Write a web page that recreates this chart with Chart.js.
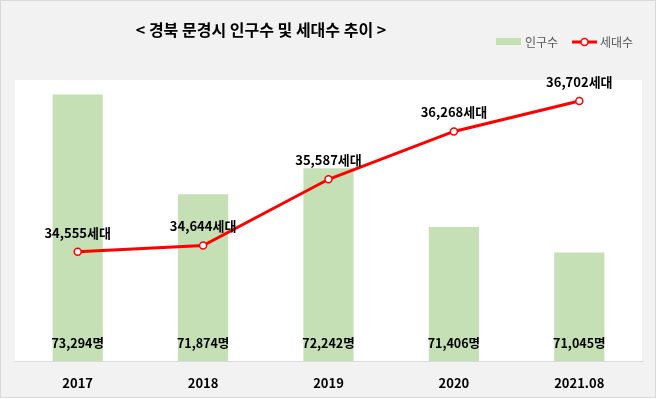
<!DOCTYPE html>
<html><head><meta charset="utf-8">
<script src="https://cdn.jsdelivr.net/npm/chart.js@4/dist/chart.umd.min.js"></script>
<style>html,body{margin:0;padding:0;background:#fff}</style>
</head><body>
<canvas id="c" width="657" height="399"></canvas>
<script>
const categories = ['2017', '2018', '2019', '2020', '2021.08'];
const population = [73294, 71874, 72242, 71406, 71045];
const households = [34555, 34644, 35587, 36268, 36702];
const popAxis = { min: 69500, max: 73500 };
const hhAxis = { min: 33000, max: 37000 };
const titleText = '< 경북 문경시 인구수 및 세대수 추이 >';
const popUnit = '명';
const hhUnit = '세대';

const FONT = "'Noto Sans CJK KR', 'Noto Sans', sans-serif";
const fmt = v => v.toLocaleString('en-US');

const bgPlugin = {
  id: 'bg',
  beforeDraw(chart) {
    const { ctx, chartArea: a } = chart;
    ctx.save();
    ctx.fillStyle = '#ffffff';
    ctx.fillRect(0, 0, chart.width, chart.height);
    ctx.fillStyle = '#f2f2f2';
    ctx.fillRect(0, 0, 656, 398);
    ctx.strokeStyle = '#d9d9d9';
    ctx.lineWidth = 1;
    ctx.strokeRect(0.5, 0.5, 655, 397);
    ctx.fillStyle = '#ffffff';
    ctx.fillRect(a.left, a.top, a.right - a.left, a.bottom - a.top);
    ctx.restore();
  }
};

const labelPlugin = {
  id: 'labels',
  afterDatasetsDraw(chart) {
    const { ctx } = chart;
    ctx.save();
    ctx.fillStyle = '#000';
    ctx.textAlign = 'center';
    ctx.textBaseline = 'middle';
    const barMeta = chart.getDatasetMeta(0);
    const base = chart.scales.y.getPixelForValue(popAxis.min);
    ctx.font = 'bold 12.5px ' + FONT;
    barMeta.data.forEach((el, i) => {
      ctx.fillText(fmt(population[i]) + popUnit, el.x, base - 18);
    });
    const lineMeta = chart.getDatasetMeta(1);
    ctx.font = 'bold 13px ' + FONT;
    lineMeta.data.forEach((el, i) => {
      ctx.fillText(fmt(households[i]) + hhUnit, el.x, el.y - 19);
    });
    ctx.restore();
  }
};

const headPlugin = {
  id: 'head',
  afterDraw(chart) {
    const { ctx } = chart;
    ctx.save();
    ctx.fillStyle = '#000';
    ctx.textAlign = 'center';
    ctx.textBaseline = 'middle';
    ctx.font = 'bold 16px ' + FONT;
    ctx.fillText(titleText, 261, 30);
    const ds = chart.data.datasets;
    ctx.font = '12px ' + FONT;
    ctx.textAlign = 'left';
    ctx.fillStyle = ds[0].backgroundColor;
    ctx.fillRect(496, 38, 25, 7);
    ctx.fillStyle = '#595959';
    ctx.fillText(ds[0].label, 525, 42);
    ctx.strokeStyle = ds[1].borderColor;
    ctx.lineWidth = 3;
    ctx.beginPath(); ctx.moveTo(572, 42); ctx.lineTo(597, 42); ctx.stroke();
    ctx.beginPath(); ctx.arc(584.5, 42, 3.5, 0, Math.PI * 2);
    ctx.fillStyle = '#fff'; ctx.fill();
    ctx.lineWidth = 1.5; ctx.stroke();
    ctx.fillStyle = '#595959';
    ctx.fillText(ds[1].label, 600, 42);
    ctx.restore();
  }
};

new Chart(document.getElementById('c'), {
  data: {
    labels: categories,
    datasets: [
      {
        type: 'bar', label: '인구수', data: population, yAxisID: 'y',
        backgroundColor: '#c5e0b4', categoryPercentage: 1, barPercentage: 0.4, order: 2
      },
      {
        type: 'line', label: '세대수', data: households, yAxisID: 'y1',
        borderColor: '#ff0000', borderWidth: 3, tension: 0,
        pointRadius: 3.5, pointBorderWidth: 1.5, pointBackgroundColor: '#ffffff',
        pointBorderColor: '#ff0000', order: 1
      }
    ]
  },
  options: {
    responsive: false,
    animation: false,
    devicePixelRatio: 1,
    layout: { padding: { left: 15, right: 15, top: 80, bottom: 0 } },
    plugins: { legend: { display: false }, title: { display: false }, tooltip: { enabled: false } },
    scales: {
      x: {
        grid: { display: false, drawTicks: false },
        border: { display: true, color: '#d9d9d9', width: 1 },
        ticks: { color: '#000', font: { family: FONT, size: 13, weight: 'bold' }, padding: 14 },
        afterFit(scale) { scale.height = 38; }
      },
      y: { display: false, min: popAxis.min, max: popAxis.max },
      y1: { display: false, min: hhAxis.min, max: hhAxis.max }
    }
  },
  plugins: [bgPlugin, labelPlugin, headPlugin]
});
</script>
</body></html>
